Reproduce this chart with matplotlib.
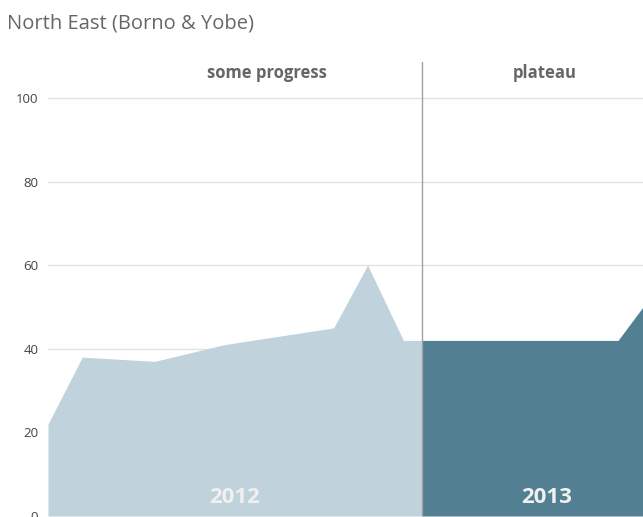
import matplotlib
matplotlib.use("Agg")
import matplotlib.pyplot as plt

# data: x in months since start of 2012
x_2012 = [0, 1.1, 3.43, 5.67, 9.17, 10.26, 11.41, 12.0]
y_2012 = [22, 38, 37, 41, 45, 60, 42, 42]
x_2013 = [12.0, 18.3, 19.1]
y_2013 = [42, 42, 50]
year_labels = ["2012", "2013"]
year_centers = [6.0, 16.0]
phase_labels = ["some progress", "plateau"]
phase_centers = [7.03, 15.95]
yticks = [0, 20, 40, 60, 80, 100]

W, H = 643, 517
fig = plt.figure(figsize=(W / 100, H / 100), dpi=100)
font = ["Open Sans", "DejaVu Sans"]
plt.rcParams["font.family"] = font

left, right = 48, 671
top, bottom = 62, 516
ax = fig.add_axes([left / W, 1 - bottom / H, (right - left) / W, (bottom - top) / H])
ax.set_xlim(0, 20)
ax.set_ylim(0, 108.6)

ax.fill_between(x_2012, y_2012, 0, color="#c0d3dc", lw=0, zorder=2)
ax.fill_between(x_2013, y_2013, 0, color="#527f91", lw=0, zorder=2)

for t in yticks[1:]:
    ax.axhline(t, color="#e3e3e3", lw=1, zorder=1)
ax.axvline(12, color="#a0a0a0", lw=1, zorder=3)

for s in ax.spines.values():
    s.set_visible(False)
ax.set_xticks([])
ax.set_yticks(yticks)
ax.set_yticklabels([str(t) for t in yticks])
ax.tick_params(axis="y", length=0, pad=7, labelsize=9.5, labelcolor="#444444")

for lab, xc in zip(year_labels, year_centers):
    ax.text(xc, 4.5, lab, ha="center", va="center", fontsize=16, fontweight="bold",
            color="#f0f0f0", zorder=4)
for lab, xc in zip(phase_labels, phase_centers):
    ax.text(xc, 106, lab, ha="center", va="center", fontsize=12, fontweight="bold",
            color="#666666", zorder=4)

fig.text(7 / W, 1 - 23 / H, "North East (Borno & Yobe)", ha="left", va="center",
         fontsize=14.5, color="#666666")

fig.savefig("out.png", dpi=100)
